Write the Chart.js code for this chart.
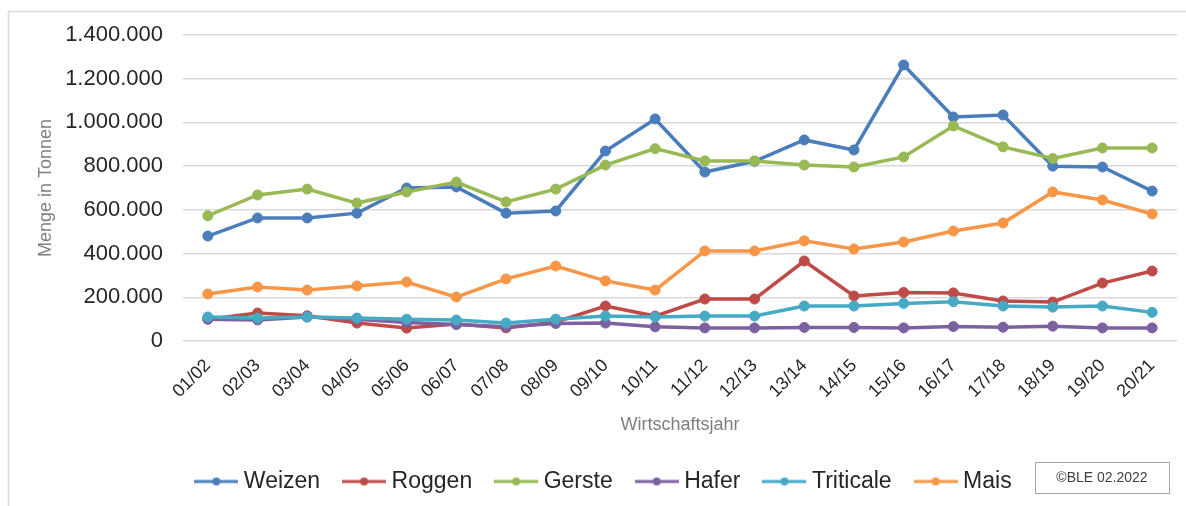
<!DOCTYPE html>
<html>
<head>
<meta charset="utf-8">
<script src="https://cdn.jsdelivr.net/npm/chart.js@4.4.1/dist/chart.umd.min.js"></script>
<style>
  html, body { margin: 0; padding: 0; background: #fff; }
  #wrap { width: 1186px; height: 506px; }
</style>
</head>
<body>
<div id="wrap"><canvas id="myChart"></canvas></div>
<script>
// Wirtschaftsjahre
const jahre = ['01/02', '02/03', '03/04', '04/05', '05/06', '06/07', '07/08', '08/09', '09/10', '10/11',
  '11/12', '12/13', '13/14', '14/15', '15/16', '16/17', '17/18', '18/19', '19/20', '20/21'];

// Mengen in Tonnen
const weizen = [480000, 563000, 563000, 585000, 700000, 705000, 585000, 595000, 869000, 1016000,
  773000, 822000, 920000, 874000, 1263000, 1025000, 1034000, 800000, 796000, 686000];
const roggen = [100000, 128000, 115000, 82000, 59000, 78000, 60000, 87000, 160000, 114000,
  192000, 192000, 366000, 206000, 222000, 220000, 183000, 178000, 265000, 320000];
const gerste = [573000, 668000, 695000, 631000, 682000, 727000, 636000, 695000, 805000, 880000,
  824000, 824000, 805000, 796000, 842000, 984000, 888000, 835000, 883000, 883000];
const hafer = [100000, 96000, 110000, 100000, 85000, 75000, 65000, 80000, 82000, 65000,
  60000, 60000, 62000, 62000, 60000, 66000, 63000, 68000, 60000, 60000];
const triticale = [110000, 105000, 110000, 105000, 100000, 96000, 82000, 100000, 114000, 110000,
  114000, 114000, 160000, 160000, 172000, 180000, 160000, 155000, 160000, 131000];
const mais = [215000, 247000, 233000, 252000, 270000, 201000, 284000, 343000, 275000, 233000,
  412000, 412000, 458000, 421000, 453000, 503000, 540000, 682000, 645000, 581000];

const yTicks = [0, 200000, 400000, 600000, 800000, 1000000, 1200000, 1400000];

const serien = [
  { label: 'Weizen', data: weizen, color: '#4a7ebb' },
  { label: 'Roggen', data: roggen, color: '#be4b48' },
  { label: 'Gerste', data: gerste, color: '#98b954' },
  { label: 'Hafer', data: hafer, color: '#7d60a0' },
  { label: 'Triticale', data: triticale, color: '#46aac5' },
  { label: 'Mais', data: mais, color: '#f79646' },
];

// Linie mit Punkt fuer die Legende
function legendIcon(color) {
  const c = document.createElement('canvas');
  c.width = 44; c.height = 12;
  const g = c.getContext('2d');
  g.strokeStyle = color; g.lineWidth = 3;
  g.beginPath(); g.moveTo(0, 6); g.lineTo(44, 6); g.stroke();
  g.fillStyle = color;
  g.beginPath(); g.arc(22, 6, 4, 0, Math.PI * 2); g.fill();
  return c;
}

function formatDE(v) {
  return String(v).replace(/\B(?=(\d{3})+(?!\d))/g, '.');
}

const rahmen = {
  id: 'rahmen',
  beforeDraw(chart) {
    const ctx = chart.ctx;
    ctx.save();
    ctx.fillStyle = '#fff';
    ctx.fillRect(0, 0, chart.width, chart.height);
    ctx.strokeStyle = '#d9d9d9';
    ctx.lineWidth = 1.5;
    ctx.strokeRect(8.5, 11.5, chart.width + 10, chart.height + 10);
    ctx.restore();
  },
  afterDraw(chart) {
    const ctx = chart.ctx;
    ctx.save();
    ctx.strokeStyle = '#a6a6a6';
    ctx.lineWidth = 1;
    ctx.strokeRect(1035.5, 462.5, 134, 31);
    ctx.fillStyle = '#404040';
    ctx.font = '14px "Liberation Sans", Arial, sans-serif';
    ctx.textAlign = 'center';
    ctx.textBaseline = 'middle';
    ctx.fillText('\u00A9BLE 02.2022', 1102, 478);
    ctx.restore();
  }
};

const data = {
  labels: jahre,
  datasets: serien.map((s, i) => ({
    label: s.label,
    data: s.data,
    borderColor: s.color,
    backgroundColor: s.color,
    pointBackgroundColor: s.color,
    pointBorderColor: s.color,
    borderWidth: 3.5,
    pointRadius: 5,
    pointBorderWidth: 1,
    tension: 0,
    order: serien.length - i,
  })),
};

const config = {
  type: 'line',
  data: data,
  options: {
    responsive: true,
    maintainAspectRatio: false,
    animation: false,
    layout: { padding: { left: 35, right: 9, top: 35, bottom: 3 } },
    plugins: {
      tooltip: { enabled: false },
      legend: {
        position: 'bottom',
        labels: {
          usePointStyle: true,
          pointStyleWidth: 32,
          padding: 28,
          color: '#262626',
          font: { family: '"Liberation Sans", Arial, sans-serif', size: 23 },
          sort: (a, b) => a.datasetIndex - b.datasetIndex,
          generateLabels(chart) {
            const items = Chart.defaults.plugins.legend.labels.generateLabels(chart);
            items.forEach(it => {
              it.pointStyle = legendIcon(serien[it.datasetIndex].color);
            });
            return items;
          },
        },
      },
    },
    scales: {
      x: {
        offset: true,
        afterFit(axis) { axis.height = 101; },
        grid: { display: false, drawTicks: false },
        border: { display: false },
        ticks: {
          autoSkip: false,
          maxRotation: 45,
          minRotation: 45,
          padding: 14,
          color: '#262626',
          font: { family: '"Liberation Sans", Arial, sans-serif', size: 18 },
        },
        title: {
          display: true,
          text: 'Wirtschaftsjahr',
          color: '#7f7f7f',
          font: { family: '"Liberation Sans", Arial, sans-serif', size: 18 },
          padding: { top: 5, bottom: 6 },
        },
      },
      y: {
        min: 0,
        max: 1400000,
        afterFit(axis) { axis.width = 148; },
        afterBuildTicks(axis) {
          axis.ticks = yTicks.map(v => ({ value: v }));
        },
        grid: { color: '#d9d9d9', lineWidth: 1.5, drawTicks: false },
        border: { display: false },
        ticks: {
          padding: 20,
          color: '#262626',
          font: { family: '"Liberation Sans", Arial, sans-serif', size: 22 },
          callback: v => formatDE(v),
        },
        title: {
          display: true,
          text: 'Menge in Tonnen',
          color: '#7f7f7f',
          font: { family: '"Liberation Sans", Arial, sans-serif', size: 18 },
          padding: { top: 0, bottom: 8 },
        },
      },
    },
  },
  plugins: [rahmen],
};

const ctx = document.getElementById('myChart').getContext('2d');
new Chart(ctx, config);
</script>
</body>
</html>
